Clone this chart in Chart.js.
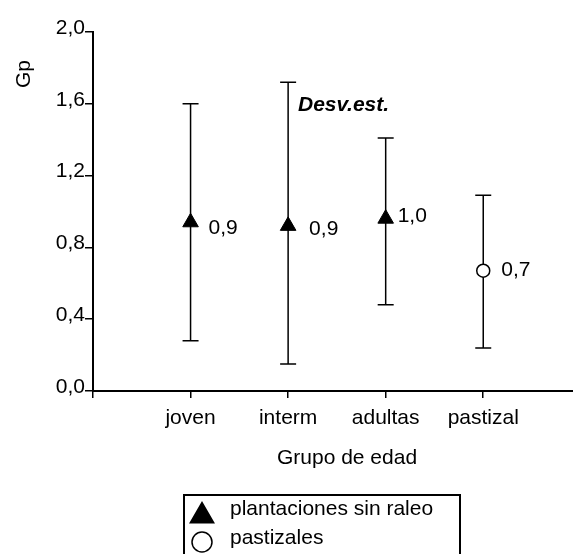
<!DOCTYPE html>
<html>
<head>
<meta charset="utf-8">
<script src="https://cdn.jsdelivr.net/npm/chart.js@4.4.0/dist/chart.umd.min.js"></script>
<style>
  body { margin: 0; background: #fff; }
  canvas { display: block; }
</style>
</head>
<body>
<canvas id="gp-chart" width="573" height="554"></canvas>
<script>
var grupos = ['joven', 'interm', 'adultas', 'pastizal'];
var medias = [0.94, 0.92, 0.96, 0.67];
var limiteSup = [1.60, 1.72, 1.41, 1.09];
var limiteInf = [0.28, 0.15, 0.48, 0.24];
var yTicks = [0.0, 0.4, 0.8, 1.2, 1.6, 2.0];
var series = ['plantaciones sin raleo', 'pastizales'];

var FONT = 'Liberation Sans, Arial, sans-serif';

function coma(v) {
    return Number(v).toFixed(1).replace('.', ',');
}

// bars go under the markers: lower limit to upper limit, with caps
var errorBars = {
    id: 'errorBars',
    beforeDatasetsDraw: function(chart) {
        var ctx = chart.ctx;
        var xs = chart.scales.x, ys = chart.scales.y;
        ctx.save();
        ctx.strokeStyle = '#000';
        ctx.lineWidth = 1.5;
        grupos.forEach(function(g, i) {
            var px = xs.getPixelForValue(i + 1);
            var top = ys.getPixelForValue(limiteSup[i]);
            var bot = ys.getPixelForValue(limiteInf[i]);
            ctx.beginPath();
            ctx.moveTo(px, top); ctx.lineTo(px, bot);
            ctx.moveTo(px - 8, top); ctx.lineTo(px + 8, top);
            ctx.moveTo(px - 8, bot); ctx.lineTo(px + 8, bot);
            ctx.stroke();
        });
        ctx.restore();
    }
};

// value labels, axis titles, note and the boxed legend
var textos = {
    id: 'textos',
    afterDraw: function(chart) {
        var ctx = chart.ctx;
        var xs = chart.scales.x, ys = chart.scales.y;
        var offsets = [[18, 6], [21, 3], [12, -2], [18, -1]];
        ctx.save();
        ctx.fillStyle = '#000';
        ctx.font = '21px ' + FONT;
        ctx.textBaseline = 'middle';
        ctx.textAlign = 'left';
        grupos.forEach(function(g, i) {
            var px = xs.getPixelForValue(i + 1);
            var py = ys.getPixelForValue(medias[i]);
            ctx.fillText(coma(medias[i]), px + offsets[i][0], py + offsets[i][1]);
        });

        ctx.font = 'italic bold 21px ' + FONT;
        ctx.fillText('Desv.est.', 298, 105);

        ctx.font = '21px ' + FONT;
        ctx.textAlign = 'center';
        ctx.fillText('Grupo de edad', 347, 458);

        ctx.save();
        ctx.translate(24, 74);
        ctx.rotate(-Math.PI / 2);
        ctx.fillText('Gp', 0, 0);
        ctx.restore();

        // legend box
        ctx.strokeStyle = '#000';
        ctx.lineWidth = 2;
        ctx.strokeRect(184, 495, 276, 80);
        Chart.helpers.drawPoint(ctx, {pointStyle: 'triangle', radius: 13, borderWidth: 1}, 202, 516);
        ctx.fillStyle = '#fff';
        ctx.lineWidth = 1.5;
        Chart.helpers.drawPoint(ctx, {pointStyle: 'circle', radius: 10, borderWidth: 1.5}, 202, 542);
        ctx.fillStyle = '#000';
        ctx.textAlign = 'left';
        ctx.textBaseline = 'alphabetic';
        ctx.fillText(series[0], 230, 515);
        ctx.fillText(series[1], 230, 544);
        ctx.restore();
    }
};

var config = {
    type: 'scatter',
    data: {
        datasets: [
            {
                label: series[0],
                data: grupos.slice(0, 3).map(function(g, i) { return {x: i + 1, y: medias[i]}; }),
                pointStyle: 'triangle',
                pointRadius: 9,
                pointHoverRadius: 9,
                backgroundColor: '#000',
                borderColor: '#000',
                borderWidth: 1
            },
            {
                label: series[1],
                data: [{x: 4, y: medias[3]}],
                pointStyle: 'circle',
                pointRadius: 6.5,
                pointHoverRadius: 6.5,
                backgroundColor: '#fff',
                borderColor: '#000',
                borderWidth: 1.5
            }
        ]
    },
    options: {
        responsive: false,
        animation: false,
        layout: { autoPadding: false, padding: { top: 32, left: 0, right: 0, bottom: 0 } },
        plugins: {
            legend: { display: false },
            tooltip: { enabled: false }
        },
        scales: {
            x: {
                type: 'linear',
                min: 0,
                max: 4.92,
                afterBuildTicks: function(scale) {
                    scale.ticks = [0, 1, 2, 3, 4].map(function(v) { return {value: v}; });
                },
                afterFit: function(scale) {
                    scale.height = 163;
                    scale.paddingLeft = 0;
                    scale.paddingRight = 0;
                },
                border: { color: '#000', width: 2 },
                grid: { drawOnChartArea: false, color: '#000', lineWidth: 1.5, tickLength: 7 },
                ticks: {
                    color: '#000',
                    font: { family: FONT, size: 21 },
                    padding: 8,
                    maxRotation: 0,
                    callback: function(v) { return v >= 1 ? grupos[v - 1] : ''; }
                }
            },
            y: {
                min: 0,
                max: 2,
                afterBuildTicks: function(scale) {
                    scale.ticks = yTicks.map(function(v) { return {value: v}; });
                },
                afterFit: function(scale) { scale.width = 93; },
                border: { color: '#000', width: 2 },
                grid: { drawOnChartArea: false, color: '#000', lineWidth: 1.5, tickLength: 8 },
                ticks: {
                    color: '#000',
                    font: { family: FONT, size: 21 },
                    padding: 0,
                    labelOffset: -4,
                    callback: function(v) { return coma(v); }
                }
            }
        }
    },
    plugins: [errorBars, textos]
};

function runChart() {
    new Chart(document.getElementById('gp-chart'), config);
}

if (document.readyState !== 'loading') {
    runChart();
} else {
    document.addEventListener('DOMContentLoaded', runChart);
}
</script>
</body>
</html>
